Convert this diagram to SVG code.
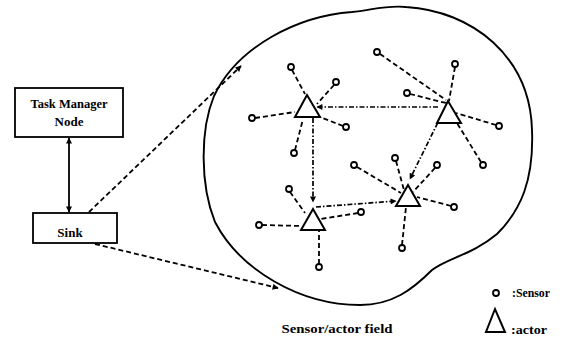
<svg xmlns="http://www.w3.org/2000/svg" width="566" height="339" viewBox="0 0 566 339">
<style>
.box{fill:#fff;stroke:#000;stroke-width:1.8}
.t{font-family:"Liberation Serif","Times New Roman",serif;font-weight:bold;fill:#000}
.sen{fill:#fff;stroke:#000;stroke-width:1.8}
.act{fill:#fff;stroke:#000;stroke-width:2;stroke-linejoin:miter}
.dash{fill:none;stroke:#000;stroke-width:1.8;stroke-dasharray:5 3}
.dd{fill:none;stroke:#000;stroke-width:1.7;stroke-dasharray:5 2 1.5 2}
.solid{fill:none;stroke:#000;stroke-width:1.8}
</style>
<defs>
<marker id="ah" viewBox="0 0 10 10" refX="9" refY="5" markerWidth="7" markerHeight="6" markerUnits="userSpaceOnUse" orient="auto-start-reverse">
<path d="M0,0 L10,5 L0,10 Z" fill="#000"/>
</marker>
<marker id="ah2" viewBox="0 0 10 10" refX="9" refY="5" markerWidth="9" markerHeight="6" markerUnits="userSpaceOnUse" orient="auto">
<path d="M0,0 L10,5 L0,10 Z" fill="#000"/>
</marker>
</defs>

<path id="field" d="M360 305 C300 305 240 270 215 222 C200 185 200 130 214 96 C238 46 298 16 352 12 C372 10 386 5 406 7 C472 11 530 56 532 130 C534 180 521 210 497 234 C472 255 447 258 432 270 C412 290 392 305 360 305 Z" fill="none" stroke="#000" stroke-width="1.9"/>

<g id="connectors">
<line class="solid" x1="69" y1="138" x2="69" y2="212" marker-start="url(#ah)" marker-end="url(#ah)"/>
<line class="dash" x1="89" y1="212" x2="241" y2="66" marker-end="url(#ah2)"/>
<line class="dash" x1="95" y1="244" x2="278" y2="288" marker-end="url(#ah2)"/>
<!-- actor links -->
<line class="dd" x1="438" y1="107" x2="317" y2="107" marker-end="url(#ah2)"/>
<line class="dd" x1="313" y1="118" x2="313" y2="202" marker-end="url(#ah2)"/>
<line class="dd" x1="316" y1="207" x2="396" y2="201" marker-end="url(#ah2)"/>
<line class="dd" x1="447" y1="104" x2="410" y2="179" marker-end="url(#ah2)"/>
<!-- A1 sensors -->
<line class="dash" x1="292" y1="70" x2="305" y2="94"/>
<line class="dash" x1="334" y1="85" x2="317" y2="104"/>
<line class="dash" x1="255" y1="118" x2="295" y2="112"/>
<line class="dash" x1="343" y1="126" x2="320" y2="117"/>
<line class="dash" x1="295" y1="150" x2="303" y2="119"/>
<!-- A2 sensors -->
<line class="dash" x1="380" y1="54" x2="446" y2="100"/>
<line class="dash" x1="455" y1="67" x2="449" y2="101"/>
<line class="dash" x1="410" y1="94" x2="446" y2="103"/>
<line class="dash" x1="496" y1="125" x2="456" y2="113"/>
<line class="dash" x1="481" y1="162" x2="457" y2="123"/>
<!-- A4 sensors -->
<line class="dash" x1="357" y1="167" x2="401" y2="193"/>
<line class="dash" x1="396" y1="161" x2="404" y2="190"/>
<line class="dash" x1="435" y1="168" x2="413" y2="192"/>
<line class="dash" x1="451" y1="206" x2="417" y2="197"/>
<line class="dash" x1="402" y1="245" x2="406" y2="207"/>
<!-- A3 sensors -->
<line class="dash" x1="290" y1="192" x2="305" y2="213"/>
<line class="dash" x1="262" y1="225" x2="302" y2="226"/>
<line class="dash" x1="358" y1="213" x2="320" y2="219"/>
<line class="dash" x1="319" y1="264" x2="319" y2="231"/>
</g>

<g id="task-manager">
<rect class="box" x="15" y="88" width="108" height="49"/>
<text class="t" x="69" y="108" font-size="12.5" text-anchor="middle">Task Manager</text>
<text class="t" x="69" y="126" font-size="13" text-anchor="middle">Node</text>
</g>
<g id="sink">
<rect class="box" x="33" y="213" width="84" height="30"/>
<text class="t" x="70" y="237" font-size="13" text-anchor="middle">Sink</text>
</g>

<g id="actor-1"><polygon class="act" points="307,95 295,117 320,117"/></g>
<g id="actor-2"><polygon class="act" points="448,101 437,123 461,123"/></g>
<g id="actor-3"><polygon class="act" points="313,209 301,230 325,230"/></g>
<g id="actor-4"><polygon class="act" points="408,185 396,206 420,206"/></g>

<g id="sensors">
<circle class="sen" cx="291" cy="67" r="3"/>
<circle class="sen" cx="336" cy="82" r="3"/>
<circle class="sen" cx="252" cy="118" r="3"/>
<circle class="sen" cx="346" cy="127" r="3"/>
<circle class="sen" cx="294" cy="153" r="3"/>
<circle class="sen" cx="377" cy="52" r="3"/>
<circle class="sen" cx="455" cy="64" r="3"/>
<circle class="sen" cx="407" cy="93" r="3"/>
<circle class="sen" cx="499" cy="126" r="3"/>
<circle class="sen" cx="483" cy="165" r="3"/>
<circle class="sen" cx="354" cy="165" r="3"/>
<circle class="sen" cx="395" cy="158" r="3"/>
<circle class="sen" cx="437" cy="165" r="3"/>
<circle class="sen" cx="454" cy="207" r="3"/>
<circle class="sen" cx="402" cy="248" r="3"/>
<circle class="sen" cx="289" cy="189" r="3"/>
<circle class="sen" cx="259" cy="225" r="3"/>
<circle class="sen" cx="361" cy="212" r="3"/>
<circle class="sen" cx="319" cy="267" r="3"/>
</g>

<g id="field-label">
<text class="t" x="337" y="333" font-size="12" text-anchor="middle" textLength="111" lengthAdjust="spacingAndGlyphs">Sensor/actor field</text>
</g>

<g id="legend">
<circle class="sen" cx="496" cy="293" r="3"/>
<text class="t" x="512" y="297" font-size="12.5" textLength="38" lengthAdjust="spacingAndGlyphs">:Sensor</text>
<polygon class="act" points="495,309 486,332 505,332"/>
<text class="t" x="511" y="334" font-size="12.5" textLength="36" lengthAdjust="spacingAndGlyphs">:actor</text>
</g>
</svg>
